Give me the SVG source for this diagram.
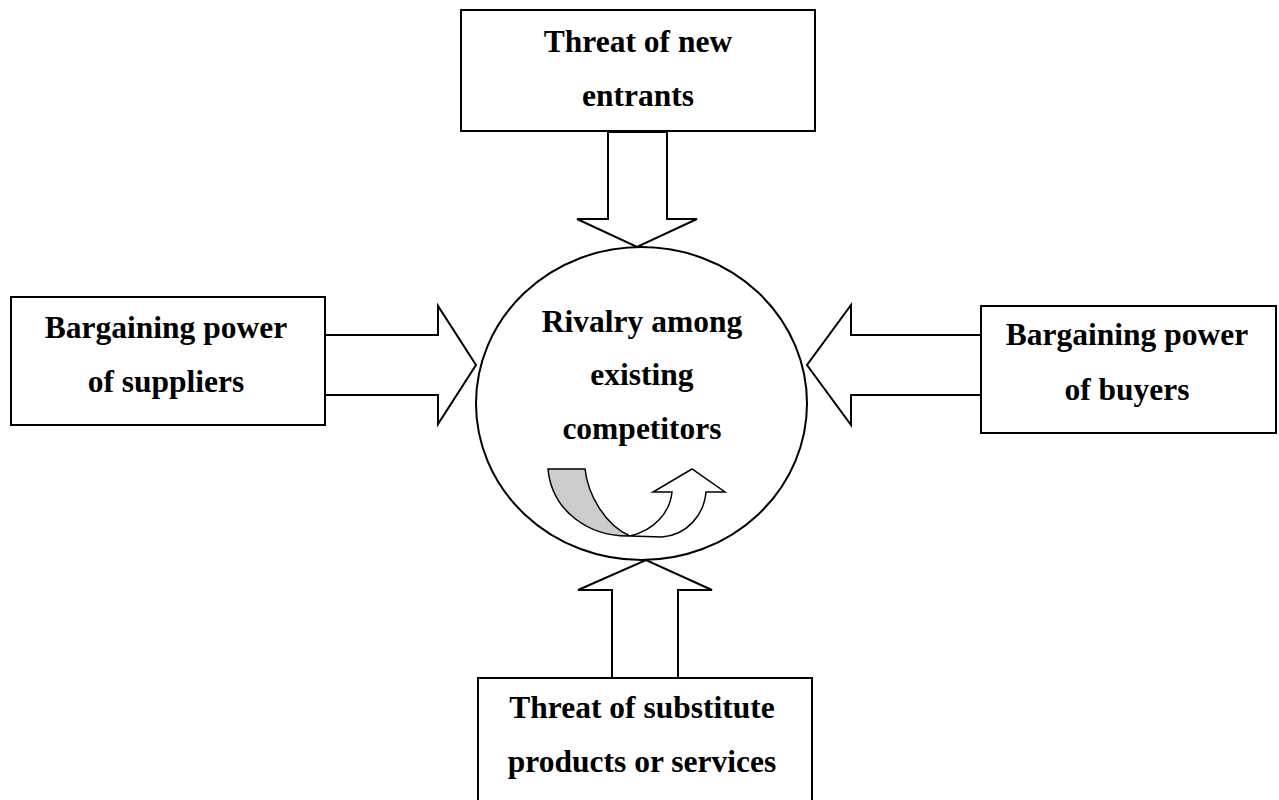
<svg xmlns="http://www.w3.org/2000/svg" width="1279" height="800" viewBox="0 0 1279 800">
<style>
.box{fill:#fff;stroke:#000;stroke-width:2}
.arr{fill:#fff;stroke:#000;stroke-width:2;stroke-linejoin:miter}
.t{font-family:"Liberation Serif","Times New Roman",serif;font-weight:bold;font-size:31.5px;fill:#000;text-anchor:middle}
</style>
<rect width="1279" height="800" fill="#fff"/>
<g id="rivalry">
<ellipse cx="641.5" cy="403.5" rx="165.5" ry="156.5" fill="#fff" stroke="#000" stroke-width="2"/>
<text class="t" x="642" y="332">Rivalry among</text>
<text class="t" x="642" y="385">existing</text>
<text class="t" x="642" y="439">competitors</text>
<path d="M548,469 L585,469 C588,495 605,525 630,536 C590,537 552,512 548,469 Z" fill="#ccc" stroke="#000" stroke-width="1.5"/>
<path d="M630,536 L662,537 C687,535 704,515 706,492 L725,492 L692,469 L653,492 L672,492 C670,512 655,530 630,536 Z" fill="#fff" stroke="#000" stroke-width="1.5"/>
</g>
<g id="connectors">
<polygon class="arr" points="608,132 667,132 667,219 697,219 637,247 577,219 608,219"/>
<polygon class="arr" points="325,335 438,335 438,306 476,365 438,424 438,395 325,395"/>
<polygon class="arr" points="981,335 851,335 851,305 807,365 851,425 851,395 981,395"/>
<polygon class="arr" points="612,678 612,590 578,590 646,560 712,590 678,590 678,678"/>
</g>
<g id="new-entrants">
<rect class="box" x="461" y="10" width="354" height="121"/>
<text class="t" x="638" y="52">Threat of new</text>
<text class="t" x="638" y="106">entrants</text>
</g>
<g id="suppliers">
<rect class="box" x="11" y="297" width="314" height="128"/>
<text class="t" x="166" y="338">Bargaining power</text>
<text class="t" x="166" y="392">of suppliers</text>
</g>
<g id="buyers">
<rect class="box" x="981" y="306" width="295" height="127"/>
<text class="t" x="1127" y="345">Bargaining power</text>
<text class="t" x="1127" y="400">of buyers</text>
</g>
<g id="substitutes">
<rect class="box" x="478" y="678" width="334" height="130"/>
<text class="t" x="642" y="718">Threat of substitute</text>
<text class="t" x="642" y="772">products or services</text>
</g>
</svg>
